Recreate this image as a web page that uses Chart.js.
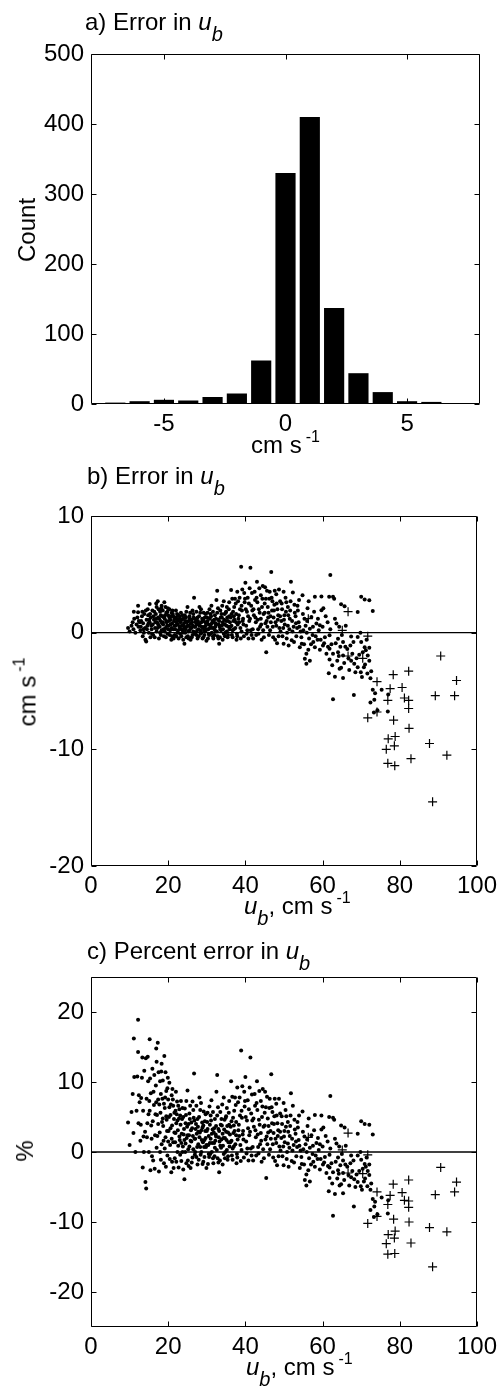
<!DOCTYPE html>
<html>
<head>
<meta charset="utf-8">
<script src="https://cdn.jsdelivr.net/npm/chart.js@4.4.1/dist/chart.umd.min.js"></script>
<style>
  body { margin: 0; background: #fff; width: 503px; height: 1398px; position: relative; overflow: hidden;
         font-family: "Liberation Sans", Arial, Helvetica, sans-serif; }
  canvas { position: absolute; left: 0; }
  .t { position: absolute; font-size: 24px; line-height: 24px; white-space: nowrap; color: #000; }
  .sub { position: relative; top: 11px; font-size: 20px; font-style: italic; }
  .sup { position: relative; top: -11px; font-size: 16px; margin-left: 4px; }
  .rot { transform: translate(-50%, -50%) rotate(-90deg); }
</style>
</head>
<body>
<canvas id="histChart" width="503" height="464" style="top:0"></canvas>
<canvas id="errChart" width="503" height="464" style="top:462px"></canvas>
<canvas id="pctChart" width="503" height="464" style="top:923px"></canvas>

<div class="t" style="left:85px;top:10px">a) Error in <i>u</i><span class="sub">b</span></div>
<div class="t" style="left:251px;top:433px">cm s<span class="sup">-1</span></div>
<div class="t rot" style="left:27px;top:230px">Count</div>

<div class="t" style="left:87px;top:464px">b) Error in <i>u</i><span class="sub">b</span></div>
<div class="t" style="left:244px;top:894px"><i>u</i><span class="sub">b</span>, cm s<span class="sup">-1</span></div>
<div class="t rot" style="left:29px;top:692px">cm s<span class="sup">-1</span></div>

<div class="t" style="left:87px;top:939px">c) Percent error in <i>u</i><span class="sub">b</span></div>
<div class="t" style="left:246px;top:1355px"><i>u</i><span class="sub">b</span>, cm s<span class="sup">-1</span></div>
<div class="t rot" style="left:25px;top:1151px">%</div>

<script>
// a) histogram of the error in u_b
var histCenters = [-7, -6, -5, -4, -3, -2, -1, 0, 1, 2, 3, 4, 5, 6];
var histCounts  = [2, 4, 6, 5, 10, 15, 62, 330, 410, 137, 44, 17, 4, 3];
var histTicksX = [-5, 0, 5];
var histTicksY = [0, 100, 200, 300, 400, 500];

// b) and c): u_b (cm/s), error (cm/s) and percent error, dots
var dotU = [
  9.6,10.0,10.5,10.8,11.0,11.1,11.2,11.5,11.8,12.0,
  12.2,12.3,12.2,12.8,13.0,13.2,13.4,13.5,13.8,14.0,
  14.1,14.3,14.4,14.6,14.8,15.0,15.2,15.2,15.4,15.5,
  15.7,15.9,16.0,16.1,16.3,16.9,16.6,16.8,17.0,17.1,
  17.3,17.4,17.6,17.8,17.9,18.0,18.2,18.3,18.5,18.7,
  18.9,19.0,19.1,19.3,19.5,19.6,19.8,20.0,20.1,20.3,
  20.5,20.6,20.8,21.0,21.2,21.3,21.5,21.7,21.9,22.0,
  22.2,22.4,22.5,22.7,22.9,23.0,23.2,23.4,23.6,23.8,
  24.0,24.2,24.3,24.5,24.7,24.9,25.0,25.2,25.4,25.6,
  25.8,26.0,26.2,26.3,26.5,26.7,26.8,27.0,27.2,27.4,
  27.6,27.8,28.0,28.2,28.4,28.5,28.7,28.9,29.1,29.3,
  29.5,29.7,29.9,30.0,30.2,30.4,30.6,30.8,31.0,31.2,
  31.3,31.5,31.7,31.9,32.1,32.3,32.5,32.7,32.8,33.0,
  33.2,33.3,33.5,33.7,33.9,34.1,34.3,34.4,34.6,34.8,
  35.0,35.2,35.4,35.6,35.8,36.0,36.3,36.5,36.6,36.8,
  37.0,37.2,37.5,37.7,37.9,38.0,38.3,38.6,38.9,39.0,
  39.2,39.4,39.6,39.8,40.0,40.2,40.4,40.6,40.8,41.0,
  41.3,41.5,41.7,41.9,42.2,42.5,42.8,43.0,43.2,43.5,
  43.8,44.0,44.2,44.5,44.7,45.0,45.2,45.4,45.6,45.9,
  46.2,46.4,46.7,46.9,47.2,47.5,47.8,48.0,48.2,48.5,
  48.8,49.0,49.3,49.6,49.9,49.9,50.2,50.5,50.8,51.0,
  51.2,51.5,51.8,52.0,52.3,52.5,52.8,53.2,53.5,53.8,
  54.1,54.6,54.8,55.0,55.4,55.8,55.8,56.0,56.3,56.7,
  56.7,57.1,57.6,58.0,58.0,58.4,59.3,59.3,59.7,59.7,
  60.1,61.0,61.3,61.6,61.7,61.8,61.8,61.8,62.0,62.7,
  62.7,62.7,63.2,63.2,63.6,64.0,64.0,64.3,64.4,64.8,
  64.8,65.3,65.3,65.3,65.7,67.4,67.4,68.0,68.1,68.2,
  69.1,69.1,69.1,69.8,70.0,70.0,70.4,70.7,70.9,70.9,
  71.0,71.2,71.7,72.1,72.1,72.1,72.4,72.4,73.0,73.0,
  73.3,73.4,73.6,74.2,75.3,76.9,77.0,
  12.6,13.6,14.2,14.9,15.3,15.8,16.2,16.7,17.2,17.5,
  17.7,18.1,18.4,18.6,18.8,19.2,19.4,19.7,19.9,20.2,
  20.4,20.7,20.9,21.1,21.4,21.6,21.8,22.1,22.3,22.6,
  22.8,23.1,23.3,23.5,23.7,23.9,24.1,24.4,24.6,24.8,
  25.1,25.3,25.5,25.7,25.9,26.1,26.4,26.6,26.9,27.1,
  27.3,27.5,27.7,27.9,28.1,28.3,28.6,28.8,29.0,29.2,
  29.4,29.6,29.8,30.1,30.3,30.5,30.7,30.9,31.1,31.4,
  31.6,31.8,32.0,32.2,32.4,32.6,32.9,33.1,33.4,33.6,
  33.8,34.0,34.2,34.5,34.7,34.9,35.1,35.3,35.5,35.7,
  35.9,36.2,36.4,36.7,36.9,37.1,37.4,37.6,37.8,38.1,
  38.4,38.8,39.1,39.5,39.9,40.3,40.7,41.1,41.4,41.8,
  42.0,42.4,42.7,43.1,43.4,43.7,44.1,44.4,44.8,45.1,
  45.5,45.8,46.1,46.5,46.8,47.1,47.4,47.7,48.1,48.4,
  48.7,49.1,49.5,50.0,50.4,50.7,51.1,51.4,51.7,52.1,
  52.6,53.0,53.4,53.9,54.3,54.9,55.2,55.6,56.1,56.5,
  57.4,57.8,58.7,59.0,60.0,60.4,60.8,62.3,63.0,63.8,
  64.6,65.6,66.0,66.4,66.9,67.7,68.5,69.5,69.9,71.4,
  72.6,
  12.4,12.9,13.3,13.7,14.5,14.7,15.1,15.6,16.4,16.5,
  16.9,17.0,17.4,17.9,18.1,18.3,18.6,18.9,19.1,19.3,
  19.5,19.8,20.0,20.3,20.6,20.9,21.0,21.3,21.6,21.9,
  22.1,22.4,22.6,22.9,23.1,23.4,23.7,23.9,24.2,24.5,
  24.7,25.0,25.3,25.5,25.8,26.0,26.3,26.5,26.8,27.0,
  27.3,27.6,27.8,28.1,28.3,28.6,28.9,29.1,29.4,29.7,
  29.9,30.2,30.5,30.8,31.0,31.3,31.6,31.9,32.1,32.4,
  32.7,33.0,33.2,33.5,33.8,34.1,34.4,34.7,35.0,35.2,
  35.5,35.8,36.1,36.4,36.7,37.0,37.3,37.6,37.9,38.2,
  38.5,38.7,39.0,39.3,39.7,40.1,40.5,40.9,41.2,41.6,
  42.1,42.6,42.9,43.3,43.6,44.0,44.3,44.6,45.0,45.3,
  45.7,46.0,46.3,46.6,47.0,47.3,47.6,48.0,48.3,48.6,
  49.0,49.4,49.8,50.1,50.6,51.0,51.6,52.2,52.7,53.1,
  53.6,54.0,54.5,55.3,55.9,56.4,57.0,57.5,58.2,58.8,
  59.5,60.2,60.6,61.4,62.0,62.5,63.4,64.2,65.0,65.9,
  66.7,67.2,68.8,70.2,71.6
];
var dotErr = [
  0.4,0.1,0.6,0.9,0.3,1.8,1.2,0.0,0.7,1.3,
  2.3,0.5,1.75,0.2,1.0,1.4,-0.3,0.8,1.6,0.4,
  -0.6,-0.75,1.1,0.6,1.5,0.0,2.45,0.9,-0.4,1.3,
  0.3,1.9,0.7,-0.2,1.1,2.5,0.4,1.6,0.1,0.9,
  2.7,1.3,-0.5,0.5,1.8,1.0,2.1,0.2,1.4,0.7,
  -0.3,2.6,1.2,0.4,1.7,0.9,-0.1,1.5,0.6,2.0,
  0.2,1.1,-0.6,0.8,1.6,0.3,1.0,-0.2,0.6,1.9,
  1.2,0.0,0.7,-0.5,1.4,0.4,0.9,-0.3,1.1,0.2,
  0.6,-0.95,1.5,0.3,-0.4,0.9,2.2,0.1,0.6,1.2,
  -0.6,0.4,0.9,-0.2,1.6,3.0,0.5,0.0,1.1,0.7,
  -0.5,0.3,1.4,0.8,-0.1,2.0,0.5,1.0,-0.4,0.2,
  1.3,0.6,-0.7,0.9,1.7,0.3,-0.2,1.2,0.6,2.3,
  0.0,1.0,-0.5,0.4,1.5,0.8,2.8,3.6,-0.3,1.1,
  -0.95,0.5,1.9,0.2,1.3,-0.6,0.7,2.7,1.6,0.0,
  1.0,2.2,-0.4,0.5,1.4,0.9,3.65,-0.2,2.9,1.8,
  0.3,1.1,2.5,-0.6,3.5,0.7,1.5,2.0,5.65,0.1,
  3.7,1.2,-0.3,2.6,4.28,0.6,1.8,3.0,-0.5,1.0,
  5.57,2.3,3.4,0.3,1.5,2.8,-0.2,4.36,1.1,2.0,
  0.5,3.2,-0.6,4.0,1.6,2.5,0.8,-1.67,3.6,1.3,
  2.9,0.2,5.2,1.9,-0.4,2.4,0.9,3.3,-0.9,1.5,
  0.4,2.7,1.0,-0.3,3.5,-0.95,0.7,1.8,0.0,2.2,
  -1.1,1.2,4.36,-0.66,3.45,0.5,1.7,-0.3,2.3,0.9,
  -1.24,-0.95,3.2,0.2,-2.24,-1.8,-2.67,1.0,-1.47,0.34,
  -2.4,1.35,-0.8,3.07,-1.24,0.78,0.63,-1.47,3.1,1.92,
  -1.1,-1.8,0.9,-3.48,3.07,-0.23,-1.38,-2.3,4.94,3.07,
  -1.8,-5.7,1.2,-3.77,0.78,-0.52,-1.67,0.5,-3.1,2.44,
  -3.0,-0.8,-1.96,-3.88,2.27,-0.32,-2.4,-0.8,-5.34,-2.67,
  1.78,-0.38,-2.97,0.0,3.07,-0.8,-1.67,-2.97,2.84,-1.24,
  -2.73,-1.5,-1.96,2.78,-1.3,-2.4,-3.9,-5.98,1.86,-4.9,
  -6.84,-5.75,-5.2,-6.64,-4.9,-6.76,-5.3,
  0.9,0.3,1.9,0.8,1.6,-0.1,1.4,0.9,0.4,2.0,
  1.2,-0.2,0.8,1.9,0.3,1.5,-0.4,0.6,2.1,1.0,
  -0.2,1.4,0.4,1.9,-0.5,1.2,0.3,0.9,1.6,0.2,
  1.1,-0.1,1.7,0.6,0.0,1.2,0.8,0.0,1.3,0.5,
  -0.3,1.0,0.2,1.7,0.8,-0.4,0.6,1.3,-0.1,0.9,
  1.8,0.2,1.0,-0.3,0.6,1.7,0.0,1.2,0.4,1.7,
  -0.2,0.9,0.2,1.3,-0.5,0.7,2.0,-0.1,1.4,0.4,
  1.8,0.9,-0.2,0.5,1.2,0.1,2.1,0.7,-0.4,1.3,
  0.6,2.3,0.3,1.1,-0.3,1.7,0.6,1.3,-0.2,2.0,
  0.3,1.3,0.6,-0.4,1.0,2.2,0.4,1.6,-0.1,2.7,
  0.9,-0.5,1.9,0.7,2.9,-0.1,1.4,3.8,0.2,1.9,
  -0.5,3.5,0.9,2.6,-0.1,1.7,0.7,2.9,-0.4,3.9,
  1.0,2.2,-0.2,1.4,3.0,0.5,1.9,-0.6,2.5,1.1,
  3.7,0.1,2.0,1.1,3.0,-0.5,1.5,0.3,2.7,1.0,
  -0.8,1.4,0.4,2.8,0.1,1.6,-1.0,0.6,2.1,-0.5,
  -0.2,1.8,-0.6,0.2,0.5,-0.9,1.4,-1.0,2.9,-2.4,
  -1.2,-2.6,0.6,-1.4,-3.2,-1.8,-3.4,-1.9,-3.4,-0.6,
  -3.3,
  1.0,0.5,1.8,0.0,0.3,2.0,1.1,0.6,1.8,-0.4,
  1.2,2.2,0.7,0.0,1.5,2.3,0.9,1.3,0.1,2.2,
  1.0,1.8,0.3,1.3,0.7,1.7,-0.3,1.4,0.6,1.3,
  -0.3,1.0,1.5,0.5,1.2,0.3,1.5,-0.6,0.4,1.0,
  1.8,0.6,-0.5,1.4,0.4,1.1,1.9,0.1,1.2,0.5,
  -0.2,1.3,0.8,2.2,0.2,0.9,-0.5,1.1,0.5,1.6,
  0.3,1.0,-0.1,0.4,1.6,0.8,-0.3,1.1,0.2,0.7,
  1.7,-0.5,1.0,0.3,1.6,0.9,-0.1,0.7,1.8,0.1,
  1.0,2.6,0.5,1.6,0.2,1.4,2.9,0.9,-0.3,1.2,
  3.0,0.4,2.3,1.0,3.4,2.0,0.2,2.5,1.2,-0.2,
  2.0,1.3,3.0,0.3,3.8,1.2,2.2,0.2,1.7,2.9,
  0.5,1.7,3.5,0.9,2.7,1.3,3.6,0.6,2.0,-0.3,
  1.4,2.5,0.4,1.5,2.6,0.6,1.9,0.1,2.4,0.8,
  1.9,0.5,-0.4,1.2,0.0,2.7,-1.0,0.5,-0.3,1.2,
  -0.6,2.1,-0.4,-1.2,0.3,-2.8,-0.9,-2.0,-0.2,-1.2,
  -2.2,-1.1,-2.2,-3.8,-3.5
];
var dotPct = [
  4.2,1.0,5.7,8.3,2.7,16.2,10.7,0.0,5.9,10.8,
  18.9,4.1,14.3,1.6,7.7,10.6,-2.2,5.9,11.6,2.9,
  -4.3,-5.2,7.6,4.1,10.1,0.0,16.1,5.9,-2.6,8.4,
  1.9,11.9,4.4,-1.2,6.7,14.8,2.4,9.5,0.6,5.3,
  15.6,7.5,-2.8,2.8,10.1,5.6,11.5,1.1,7.6,3.7,
  -1.6,13.7,6.3,2.1,8.7,4.6,-0.5,7.5,3.0,9.9,
  1.0,5.3,-2.9,3.8,7.5,1.4,4.7,-0.9,2.7,8.6,
  5.4,0.0,3.1,-2.2,6.1,1.7,3.9,-1.3,4.7,0.8,
  2.5,-3.9,6.2,1.2,-1.6,3.6,8.8,0.4,2.4,4.7,
  -2.3,1.5,3.4,-0.8,6.0,11.2,1.9,0.0,4.0,2.6,
  -1.8,1.1,5.0,2.8,-0.4,7.0,1.7,3.5,-1.4,0.7,
  4.4,2.0,-2.3,3.0,5.6,1.0,-0.7,3.9,1.9,7.4,
  0.0,3.2,-1.6,1.3,4.7,2.5,8.6,11.0,-0.9,3.3,
  -2.9,1.5,5.7,0.6,3.8,-1.8,2.0,7.8,4.6,0.0,
  2.9,6.3,-1.1,1.4,3.9,2.5,10.1,-0.5,7.9,4.9,
  0.8,3.0,6.7,-1.6,9.2,1.8,3.9,5.2,14.5,0.3,
  9.4,3.0,-0.8,6.5,10.7,1.5,4.5,7.4,-1.2,2.4,
  13.5,5.5,8.2,0.7,3.6,6.6,-0.5,10.1,2.5,4.6,
  1.1,7.3,-1.4,9.0,3.6,5.6,1.8,-3.7,7.9,2.8,
  6.3,0.4,11.1,4.1,-0.8,5.1,1.9,6.9,-1.9,3.1,
  0.8,5.5,2.0,-0.6,7.0,-1.9,1.4,3.6,0.0,4.3,
  -2.1,2.3,8.4,-1.3,6.6,1.0,3.2,-0.6,4.3,1.7,
  -2.3,-1.7,5.8,0.4,-4.0,-3.2,-4.8,1.8,-2.6,0.6,
  -4.2,2.4,-1.4,5.3,-2.1,1.3,1.1,-2.5,5.2,3.2,
  -1.8,-3.0,1.5,-5.6,5.0,-0.4,-2.2,-3.7,8.0,4.9,
  -2.9,-9.1,1.9,-6.0,1.2,-0.8,-2.6,0.8,-4.8,3.8,
  -4.6,-1.2,-3.0,-5.9,3.5,-0.5,-3.6,-1.2,-7.8,-3.9,
  2.6,-0.5,-4.3,0.0,4.4,-1.1,-2.4,-4.2,4.0,-1.7,
  -3.8,-2.1,-2.7,3.9,-1.8,-3.3,-5.4,-8.3,2.5,-6.7,
  -9.3,-7.8,-7.1,-8.9,-6.5,-8.8,-6.9,
  7.1,2.2,13.4,5.4,10.5,-0.6,8.6,5.4,2.3,11.4,
  6.8,-1.1,4.3,10.2,1.6,7.8,-2.1,3.0,10.6,5.0,
  -1.0,6.8,1.9,9.0,-2.3,5.6,1.4,4.1,7.2,0.9,
  4.8,-0.4,7.3,2.6,0.0,5.0,3.3,0.0,5.3,2.0,
  -1.2,4.0,0.8,6.6,3.1,-1.5,2.3,4.9,-0.4,3.3,
  6.6,0.7,3.6,-1.1,2.1,6.0,0.0,4.2,1.4,5.8,
  -0.7,3.0,0.7,4.3,-1.7,2.3,6.5,-0.3,4.5,1.3,
  5.7,2.8,-0.6,1.6,3.7,0.3,6.4,2.1,-1.2,3.9,
  1.8,6.8,0.9,3.2,-0.9,4.9,1.7,3.7,-0.6,5.6,
  0.8,3.6,1.6,-1.1,2.7,5.9,1.1,4.3,-0.3,7.1,
  2.3,-1.3,4.9,1.8,7.3,-0.2,3.4,9.2,0.5,4.5,
  -1.2,8.3,2.1,6.0,-0.2,3.9,1.6,6.5,-0.9,8.6,
  2.2,4.8,-0.4,3.0,6.4,1.1,4.0,-1.3,5.2,2.3,
  7.6,0.2,4.0,2.2,6.0,-1.0,2.9,0.6,5.2,1.9,
  -1.5,2.6,0.7,5.2,0.2,2.9,-1.8,1.1,3.7,-0.9,
  -0.3,3.1,-1.0,0.3,0.8,-1.5,2.3,-1.6,4.6,-3.8,
  -1.9,-4.0,0.9,-2.1,-4.8,-2.7,-5.0,-2.7,-4.9,-0.8,
  -4.5,
  8.1,3.9,13.5,0.0,2.1,13.6,7.3,3.8,11.0,-2.4,
  7.1,12.9,4.0,0.0,8.3,12.6,4.8,6.9,0.5,11.4,
  5.1,9.1,1.5,6.4,3.4,8.1,-1.4,6.6,2.8,5.9,
  -1.4,4.5,6.6,2.2,5.2,1.3,6.3,-2.5,1.7,4.1,
  7.3,2.4,-2.0,5.5,1.6,4.2,7.2,0.4,4.5,1.9,
  -0.7,4.7,2.9,7.8,0.7,3.1,-1.7,3.8,1.7,5.4,
  1.0,3.3,-0.3,1.3,5.2,2.6,-0.9,3.4,0.6,2.2,
  5.2,-1.5,3.0,0.9,4.7,2.6,-0.3,2.0,5.1,0.3,
  2.8,7.3,1.4,4.4,0.5,3.8,7.8,2.4,-0.8,3.1,
  7.8,1.0,5.9,2.5,8.6,5.0,0.5,6.1,2.9,-0.5,
  4.8,3.1,7.0,0.7,8.7,2.7,5.0,0.4,3.8,6.4,
  1.1,3.7,7.6,1.9,5.7,2.7,7.6,1.3,4.1,-0.6,
  2.9,5.1,0.8,3.0,5.1,1.2,3.7,0.2,4.6,1.5,
  3.5,0.9,-0.7,2.2,0.0,4.8,-1.8,0.9,-0.5,2.0,
  -1.0,3.5,-0.7,-2.0,0.5,-4.5,-1.4,-3.1,-0.3,-1.8,
  -3.3,-1.6,-3.2,-5.4,-4.9
];

// crosses (the other group)
var plusU = [56.3,66.6,65.1,71.7,66.6,70.4,90.6,78.3,82.3,74.1,94.7,77.5,80.6,76.9,81.2,82.3,89.2,
             94.2,82.3,74.1,71.7,78.4,82.4,77.0,78.8,78.6,76.5,87.7,92.2,76.9,78.7,82.9,88.5];
var plusErr = [1.2,1.8,0.2,-0.3,-2.0,-2.2,-2.0,-3.6,-3.3,-4.2,-4.1,-4.8,-4.7,-5.8,-5.6,-5.8,-5.4,
               -5.4,-6.5,-6.8,-7.3,-7.5,-8.2,-9.1,-8.9,-9.7,-10.0,-9.5,-10.5,-11.2,-11.4,-10.8,-14.5];
var plusPct = [2.1,2.7,0.3,-0.4,-3.0,-3.1,-2.2,-4.6,-4.0,-5.7,-4.3,-6.2,-5.8,-7.5,-6.9,-7.0,-6.1,
               -5.7,-7.9,-9.2,-10.2,-9.6,-10.0,-11.8,-11.3,-12.3,-13.1,-10.8,-11.4,-14.6,-14.5,-13.0,-16.4];

var uRange = [0, 100];
var uTicks = [0, 20, 40, 60, 80, 100];
var errRange = [-20, 10];
var errTicks = [-20, -10, 0, 10];
var pctRange = [-25, 25];
var pctTicks = [-20, -10, 0, 10, 20];

var tickFont = { family: '"Liberation Sans", Arial, Helvetica, sans-serif', size: 24 };

// box round the plot with inward tick marks on all four sides
var frameTicks = {
  id: 'frameTicks',
  afterDraw: function (chart) {
    var ctx = chart.ctx, a = chart.chartArea, sx = chart.scales.x, sy = chart.scales.y;
    var L = Math.round(a.left) + 0.5, R = Math.round(a.right) - 0.5;
    var T = Math.round(a.top) + 0.5, B = Math.round(a.bottom) - 0.5;
    ctx.save();
    ctx.strokeStyle = '#000';
    ctx.lineWidth = 1;
    ctx.beginPath();
    ctx.rect(L, T, R - L, B - T);
    sx.ticks.forEach(function (t) {
      var p = Math.round(sx.getPixelForValue(t.value)) + 0.5;
      ctx.moveTo(p, B); ctx.lineTo(p, B - 5);
      ctx.moveTo(p, T); ctx.lineTo(p, T + 5);
    });
    sy.ticks.forEach(function (t) {
      var p = Math.round(sy.getPixelForValue(t.value)) + 0.5;
      ctx.moveTo(L, p); ctx.lineTo(L + 5, p);
      ctx.moveTo(R, p); ctx.lineTo(R - 5, p);
    });
    ctx.stroke();
    ctx.restore();
  }
};

function makeScales(xr, xt, yr, yt) {
  return {
    x: {
      type: 'linear', min: xr[0], max: xr[1], offset: false,
      grid: { display: false, drawTicks: false }, border: { display: false },
      ticks: { font: tickFont, color: '#000', padding: 6, maxRotation: 0, autoSkip: false },
      afterBuildTicks: function (s) { s.ticks = xt.map(function (v) { return { value: v }; }); },
      afterFit: function (s) { s.height = 60; }
    },
    y: {
      type: 'linear', min: yr[0], max: yr[1],
      grid: { display: false, drawTicks: false }, border: { display: false },
      ticks: { font: tickFont, color: '#000', padding: 7, autoSkip: false },
      afterBuildTicks: function (s) { s.ticks = yt.map(function (v) { return { value: v }; }); },
      afterFit: function (s) { s.width = 91; }
    }
  };
}

var baseOptions = function (scales) {
  return {
    responsive: false, animation: false, events: [],
    layout: { padding: { top: 54, right: 23, left: 0, bottom: 0 } },
    plugins: { legend: { display: false }, tooltip: { enabled: false } },
    scales: scales
  };
};

new Chart(document.getElementById('histChart').getContext('2d'), {
  type: 'bar',
  data: {
    datasets: [{
      data: histCenters.map(function (c, i) { return { x: c, y: histCounts[i] }; }),
      backgroundColor: '#000', borderWidth: 0,
      barPercentage: 0.83, categoryPercentage: 1
    }]
  },
  options: baseOptions(makeScales([-8, 8], histTicksX, [0, 500], histTicksY)),
  plugins: [frameTicks]
});

function scatterChart(id, ys, plusYs, yr, yt) {
  new Chart(document.getElementById(id).getContext('2d'), {
    type: 'scatter',
    data: {
      datasets: [
        {
          type: 'line', data: [{ x: uRange[0], y: 0 }, { x: uRange[1], y: 0 }],
          borderColor: '#000', borderWidth: 1.4, pointRadius: 0, order: 3
        },
        {
          data: dotU.map(function (u, i) { return { x: u, y: ys[i] }; }),
          pointRadius: 2.0, pointBackgroundColor: '#000', pointBorderWidth: 0, order: 2
        },
        {
          data: plusU.map(function (u, i) { return { x: u, y: plusYs[i] }; }),
          pointStyle: 'cross', pointRadius: 4.5, pointBorderColor: '#000', pointBorderWidth: 1.2, order: 1
        }
      ]
    },
    options: baseOptions(makeScales(uRange, uTicks, yr, yt)),
    plugins: [frameTicks]
  });
}

scatterChart('errChart', dotErr, plusErr, errRange, errTicks);
scatterChart('pctChart', dotPct, plusPct, pctRange, pctTicks);
</script>
</body>
</html>
